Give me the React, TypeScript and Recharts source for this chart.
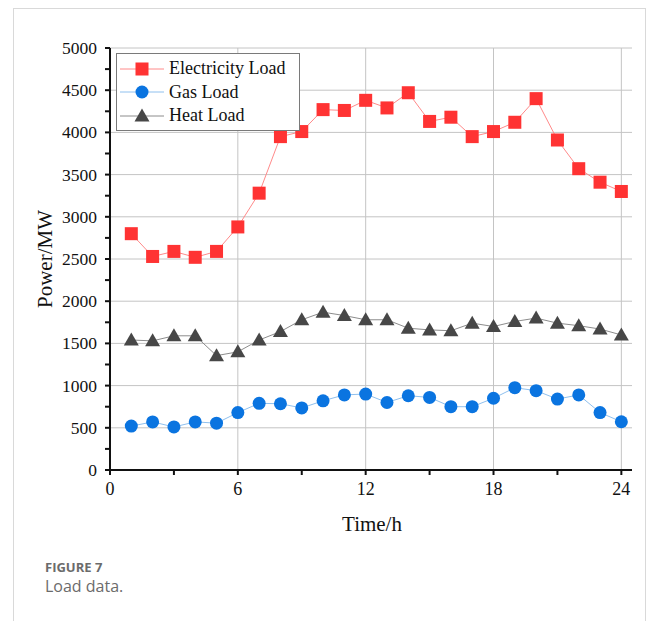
import { LineChart, Line, XAxis, YAxis, CartesianGrid } from "recharts";

const hours = [1, 2, 3, 4, 5, 6, 7, 8, 9, 10, 11, 12, 13, 14, 15, 16, 17, 18, 19, 20, 21, 22, 23, 24];
const electricity = [2800, 2530, 2590, 2520, 2590, 2880, 3280, 3950, 4010, 4270, 4260, 4380, 4290, 4470, 4130, 4180, 3950, 4010, 4120, 4400, 3910, 3570, 3410, 3300];
const gas = [520, 570, 510, 570, 555, 680, 790, 785, 735, 820, 890, 900, 800, 880, 860, 750, 750, 850, 975, 940, 840, 890, 680, 572];
const heat = [1540, 1530, 1590, 1590, 1355, 1400, 1540, 1640, 1780, 1870, 1830, 1780, 1780, 1680, 1660, 1650, 1740, 1700, 1760, 1800, 1740, 1710, 1670, 1600];

const xTicks = [0, 3, 6, 9, 12, 15, 18, 21, 24];
const xLabelled = [0, 6, 12, 18, 24];
const yTicks = [0, 250, 500, 750, 1000, 1250, 1500, 1750, 2000, 2250, 2500, 2750, 3000, 3250, 3500, 3750, 4000, 4250, 4500, 4750, 5000];
const yLabelled = [0, 500, 1000, 1500, 2000, 2500, 3000, 3500, 4000, 4500, 5000];

const seriesInfo = [
  { key: "elec", name: "Electricity Load", marker: "#ff3333", line: "#ff8a8a", shape: "square" },
  { key: "gas", name: "Gas Load", marker: "#0a74e0", line: "#8fc0ee", shape: "circle" },
  { key: "heat", name: "Heat Load", marker: "#474747", line: "#8c8c8c", shape: "triangle" },
];

const data = hours.map((h, i) => ({ h, elec: electricity[i], gas: gas[i], heat: heat[i] }));

const serif = "'Liberation Serif', 'Times New Roman', serif";

function Marker({ cx, cy, shape, color }: { cx: number; cy: number; shape: string; color: string }) {
  if (shape === "square") return <rect x={cx - 6.5} y={cy - 6.5} width={13} height={13} fill={color} />;
  if (shape === "circle") return <circle cx={cx} cy={cy} r={6.5} fill={color} />;
  return <polygon points={`${cx},${cy - 7.5} ${cx - 7.5},${cy + 5.5} ${cx + 7.5},${cy + 5.5}`} fill={color} />;
}

const makeDot = (shape: string, color: string) => (props: any) => {
  const { cx, cy, index } = props;
  if (cx == null || cy == null) return <g key={index} />;
  return <Marker key={index} cx={cx} cy={cy} shape={shape} color={color} />;
};

const XTick = (props: any) => {
  const { x, y, payload } = props;
  if (!xLabelled.includes(payload.value)) return <g />;
  return (
    <text x={x} y={y + 18} textAnchor="middle" fontFamily={serif} fontSize={18} fill="#111">
      {payload.value}
    </text>
  );
};

const YTick = (props: any) => {
  const { x, y, payload } = props;
  if (!yLabelled.includes(payload.value)) return <g />;
  return (
    <text x={x} y={y + 6} textAnchor="end" fontFamily={serif} fontSize={17.5} fill="#111">
      {payload.value}
    </text>
  );
};

const LegendBox = () => (
  <div
    style={{
      border: "1px solid #7a7a7a",
      background: "#fff",
      width: 182,
      padding: "3px 0 2px 0",
      fontFamily: serif,
      fontSize: 18,
      color: "#111",
    }}
  >
    {seriesInfo.map((s) => (
      <div key={s.key} style={{ display: "flex", alignItems: "center", height: 23.5 }}>
        <svg width={50} height={20} style={{ marginLeft: 3 }}>
          <line x1={0} y1={10} x2={44} y2={10} stroke={s.line} strokeWidth={1} />
          <Marker cx={22} cy={10} shape={s.shape} color={s.marker} />
        </svg>
        <span style={{ marginLeft: -1 }}>{s.name}</span>
      </div>
    ))}
  </div>
);

export default function App() {
  return (
    <div style={{ position: "absolute", left: 0, top: 0, width: 656, height: 621, background: "#fff", overflow: "hidden" }}>
      <div
        style={{
          position: "absolute",
          left: 13,
          top: 8,
          width: 633,
          height: 640,
          border: "1px solid #d9d9d9",
          boxSizing: "border-box",
        }}
      />
      <div style={{ position: "absolute", left: 0, top: 0 }}>
        <LineChart width={656} height={621} data={data} margin={{ top: 48, right: 24, bottom: 121, left: 50 }}>
          <CartesianGrid
            stroke="#c4c4c4"
            strokeWidth={1}
            horizontalValues={yLabelled}
            verticalValues={[6, 12, 18, 24]}
          />
          <XAxis
            dataKey="h"
            type="number"
            domain={[0, 24.5]}
            ticks={xTicks}
            tick={<XTick />}
            tickSize={5}
            height={30}
            stroke="#111"
            strokeWidth={2}
            allowDataOverflow
          />
          <XAxis xAxisId="top" orientation="top" type="number" domain={[0, 24.5]} tick={false} tickLine={false} height={0} stroke="#111" strokeWidth={2} />
          <YAxis
            type="number"
            domain={[0, 5000]}
            ticks={yTicks}
            tick={<YTick />}
            tickSize={5}
            tickMargin={8}
            width={60}
            stroke="#111"
            strokeWidth={2}
            interval={0}
          />
          <YAxis yAxisId="right" orientation="right" domain={[0, 5000]} tick={false} tickLine={false} width={0} stroke="#111" strokeWidth={2} />
          {seriesInfo.map((s) => (
            <Line
              key={s.key}
              dataKey={s.key}
              name={s.name}
              type="linear"
              stroke={s.line}
              strokeWidth={1}
              dot={makeDot(s.shape, s.marker)}
              activeDot={false}
              isAnimationActive={false}
            />
          ))}
        </LineChart>
      </div>
      <div style={{ position: "absolute", left: 116, top: 53 }}>
        <LegendBox />
      </div>
      <div
        style={{
          position: "absolute",
          left: 45,
          top: 259,
          transform: "translate(-50%, -50%) rotate(-90deg)",
          fontFamily: serif,
          fontSize: 21,
          color: "#111",
          whiteSpace: "nowrap",
        }}
      >
        Power/MW
      </div>
      <div
        style={{
          position: "absolute",
          left: 372,
          top: 512,
          transform: "translateX(-50%)",
          fontFamily: serif,
          fontSize: 21,
          color: "#111",
          whiteSpace: "nowrap",
        }}
      >
        Time/h
      </div>
      <div style={{ position: "absolute", left: 45, top: 559, fontFamily: "'Open Sans', 'Noto Sans', sans-serif", color: "#6b6b6b" }}>
        <div style={{ fontSize: 13, fontWeight: 700, lineHeight: "17px" }}>FIGURE 7</div>
        <div style={{ fontSize: 16, lineHeight: "20px" }}>Load data.</div>
      </div>
    </div>
  );
}
